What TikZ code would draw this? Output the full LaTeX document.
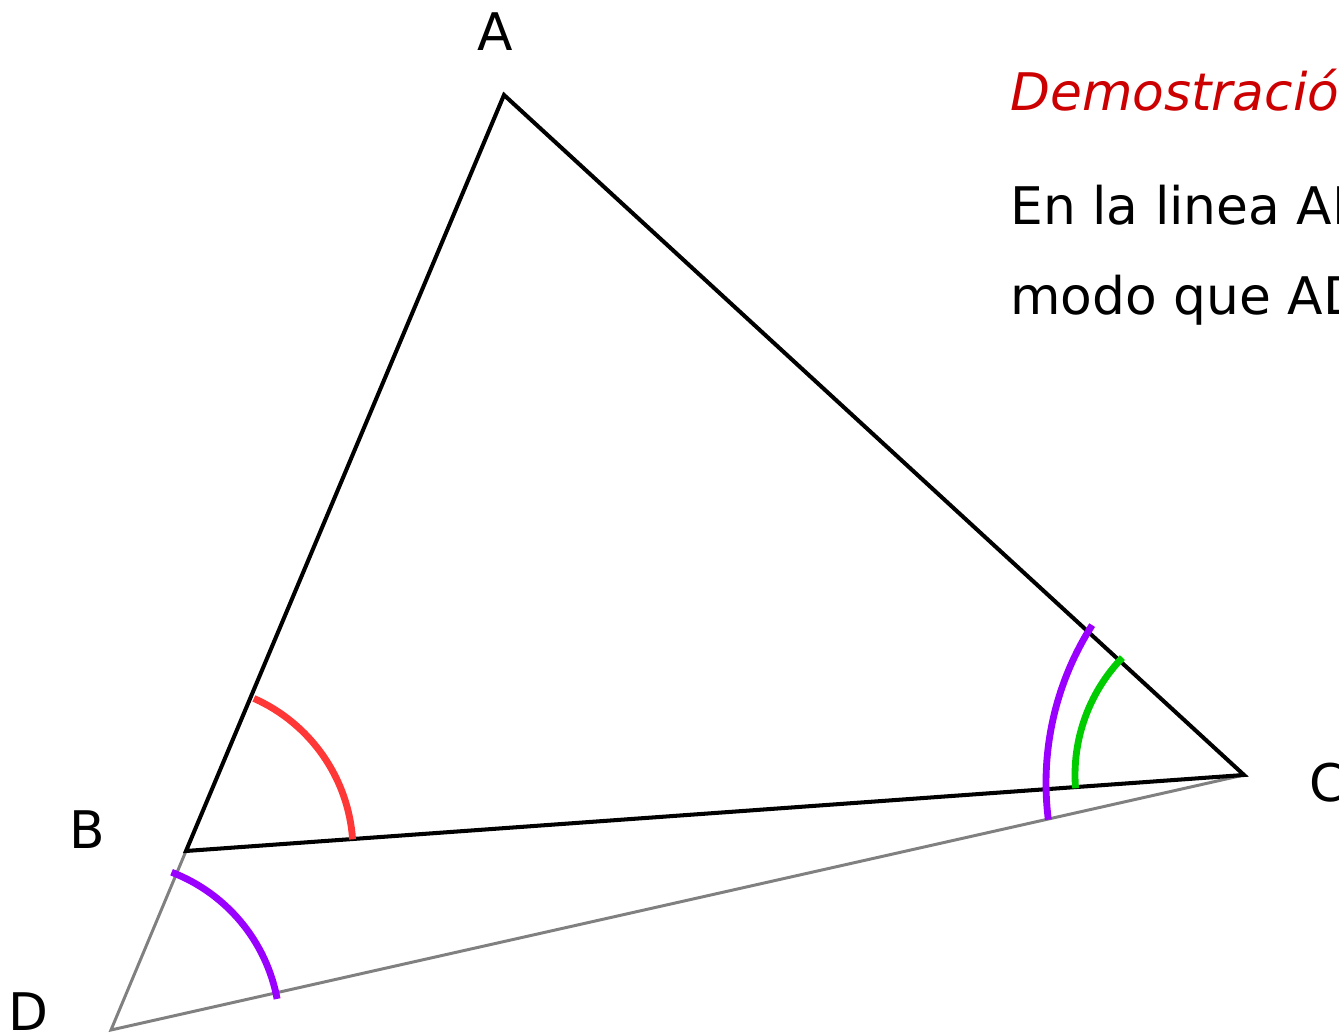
\documentclass[tikz,border=0pt]{standalone}
\usepackage{fontspec}
\setmainfont{DejaVu Sans}
\definecolor{proofred}{RGB}{204,0,0}
\definecolor{arcred}{RGB}{255,55,55}
\definecolor{arcviolet}{RGB}{153,0,255}
\definecolor{arcgreen}{RGB}{0,204,0}
\begin{document}
\begin{tikzpicture}[
  x=0.02cm,y=0.02cm,
  side/.style={draw=black,line width=2.3pt},
  aux/.style={draw=black!50,line width=1.7pt},
  anglearc/.style={line width=3.9pt},
  vertex/.style={font=\fontsize{29.5}{35}\selectfont,inner sep=0pt},
  proof/.style={font=\fontsize{29.5}{35}\selectfont,anchor=base west,inner sep=0pt},
]
\useasboundingbox (0,0) rectangle (1339,1033);
\clip (0,0) rectangle (1339,1033);
\coordinate (A) at (504,938);
\coordinate (B) at (186,182);
\coordinate (C) at (1244,258);
\coordinate (D) at (111,3);
\coordinate (Cv) at (1339,250);
\draw[aux] (B) -- (D) -- (C);
\draw[side] (A) -- (B) -- (C) -- cycle;
\draw[anglearc,draw=arcred] (B) ++(4:167) arc[start angle=4,end angle=66,radius=167];
\draw[anglearc,draw=arcviolet] (D) ++(10.6:169) arc[start angle=10.6,end angle=69,radius=169];
\draw[anglearc,draw=arcviolet] (Cv) ++(187.2:293) arc[start angle=187.2,end angle=147.4,radius=293];
\draw[anglearc,draw=arcgreen] (C) ++(184.5:169) arc[start angle=184.5,end angle=136,radius=169];
\node[vertex] (lA) at (495,1001) {A};
\node[vertex] (lB) at (87,203) {B};
\node[vertex] (lC) at (1328,250) {C};
\node[vertex] (lD) at (28,21) {D};
\node[proof,text=proofred,font=\fontsize{29.5}{35}\selectfont\itshape] (title) at (1010,922) {Demostración};
\node[proof] (line1) at (1010,808) {En la linea AB};
\node[proof] (line2) at (1010,718) {modo que AD};
\end{tikzpicture}
\end{document}
